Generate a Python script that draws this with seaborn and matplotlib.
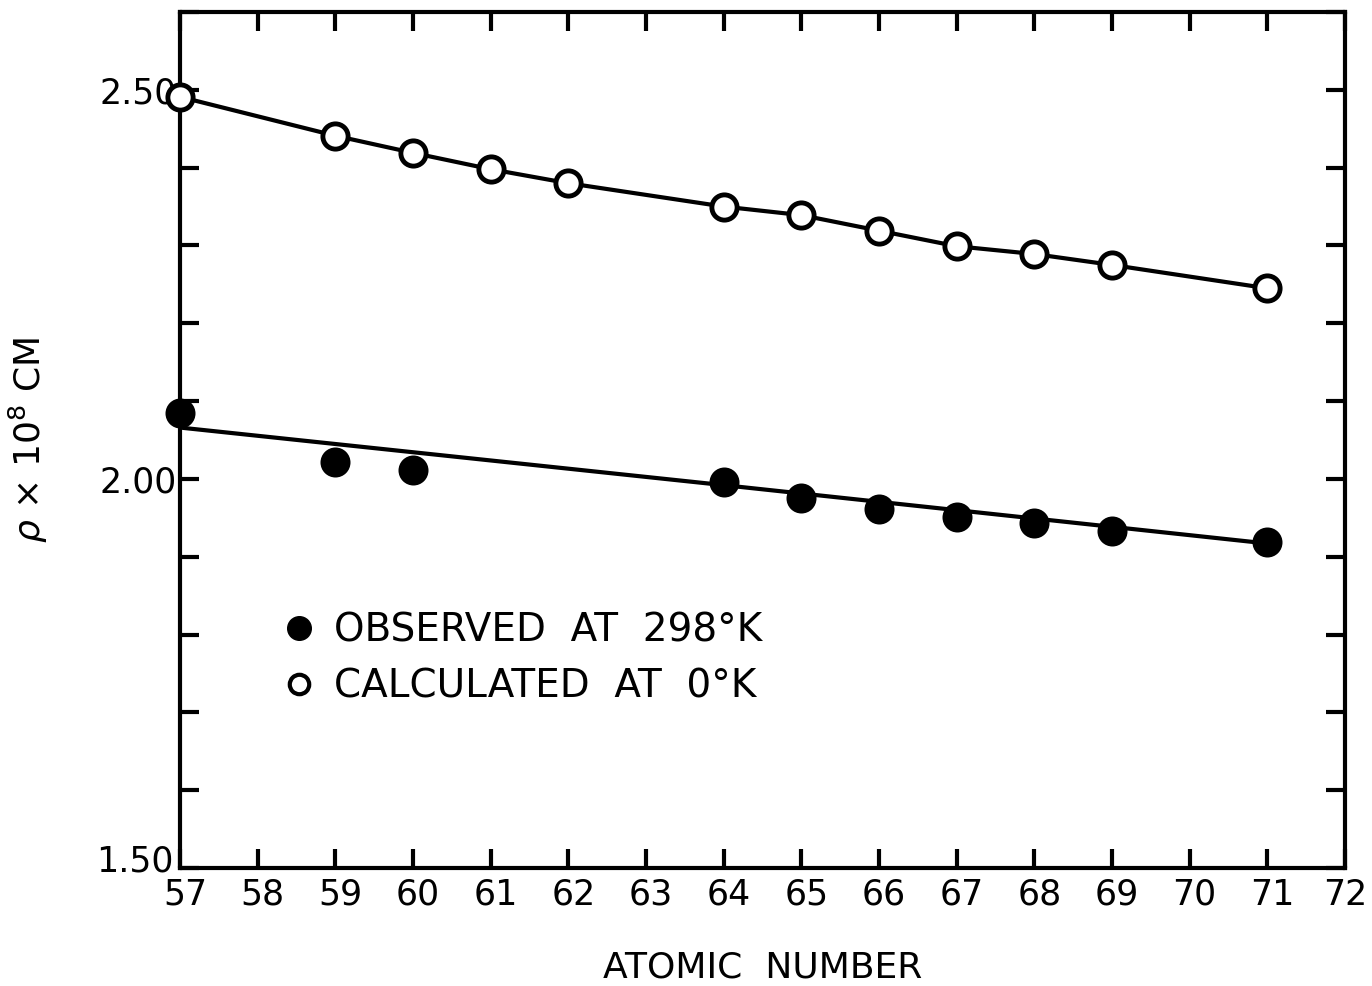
import numpy as np
import pandas as pd
import matplotlib
matplotlib.use('Agg')
import matplotlib.pyplot as plt
import matplotlib.transforms as mtransforms
import seaborn as sns
from matplotlib.lines import Line2D

# values
z_calc = [57, 59, 60, 61, 62, 64, 65, 66, 67, 68, 69, 71]
rho_calc = [2.491, 2.441, 2.419, 2.398, 2.380, 2.350, 2.339, 2.319, 2.299, 2.289, 2.275, 2.245]
z_obs = [57, 59, 60, 64, 65, 66, 67, 68, 69, 71]
rho_obs = [2.085, 2.022, 2.012, 1.996, 1.976, 1.961, 1.951, 1.943, 1.933, 1.919]
z_fit = [57, 64, 71]
rho_fit = [2.066, 1.992, 1.917]
x_ticks = list(range(57, 73))
y_labels = {1.5: '1.50', 2.0: '2.00', 2.5: '2.50'}

sns.set_theme(style='ticks')
plt.rcParams['font.family'] = ['DejaVu Sans']
plt.rcParams['text.color'] = 'black'
plt.rcParams['axes.labelcolor'] = 'black'

calc = pd.DataFrame({'z': z_calc, 'rho': rho_calc})
obs = pd.DataFrame({'z': z_obs, 'rho': rho_obs})
fit = pd.DataFrame({'z': z_fit, 'rho': rho_fit})

fig = plt.figure(figsize=(13.72, 9.86), dpi=100)
ax = fig.add_axes([0.1312, 0.1197, 0.8491, 0.8681])

sns.lineplot(data=calc, x='z', y='rho', ax=ax, color='black', lw=3)
sns.lineplot(data=fit, x='z', y='rho', ax=ax, color='black', lw=3)
sns.scatterplot(data=calc, x='z', y='rho', ax=ax, s=330, facecolor='white',
                edgecolor='black', linewidth=3.5, zorder=5, clip_on=False)
sns.scatterplot(data=obs, x='z', y='rho', ax=ax, s=400, color='black',
                edgecolor='black', zorder=5, clip_on=False)

ax.set_xlim(57, 72)
ax.set_ylim(1.5, 2.6)
ax.set_xticks(x_ticks)
ax.set_xticklabels([str(v) for v in x_ticks])
yt = np.round(np.arange(1.5, 2.61, 0.1), 2)
ax.set_yticks(yt)
ax.set_yticklabels([y_labels.get(v, '') for v in yt])
ax.tick_params(direction='in', length=14, width=3, top=True, right=True,
               labelsize=25, colors='black')
ax.tick_params(axis='x', pad=7)
ax.tick_params(axis='y', pad=2)
for s in ax.spines.values():
    s.set_linewidth(3)
    s.set_color('black')

# nudge labels like the original lettering: x labels a bit right, 1.50 up
shift_x = mtransforms.ScaledTranslation(5 / 100, 0, fig.dpi_scale_trans)
for lab in ax.get_xticklabels()[:-1]:
    lab.set_transform(lab.get_transform() + shift_x)
shift_y = mtransforms.ScaledTranslation(-4 / 100, 10 / 100, fig.dpi_scale_trans)
first = ax.get_yticklabels()[0]
first.set_transform(first.get_transform() + shift_y)

ax.set_xlabel('ATOMIC  NUMBER', fontsize=26, labelpad=28)
ax.set_ylabel(r'$\rho$ × 10$^8$ CM', fontsize=26)
ax.yaxis.set_label_coords(-0.112, 0.5)

handles = [
    Line2D([], [], ls='none', marker='o', ms=17, color='black'),
    Line2D([], [], ls='none', marker='o', ms=14, mfc='white', mec='black', mew=3),
]
ax.legend(handles, ['OBSERVED  AT  298°K', 'CALCULATED  AT  0°K'],
          loc='upper left', bbox_to_anchor=(0.055, 0.34), frameon=False,
          fontsize=28, handletextpad=0.4, labelspacing=0.45, handlelength=1)

fig.savefig('out.png', dpi=100)
